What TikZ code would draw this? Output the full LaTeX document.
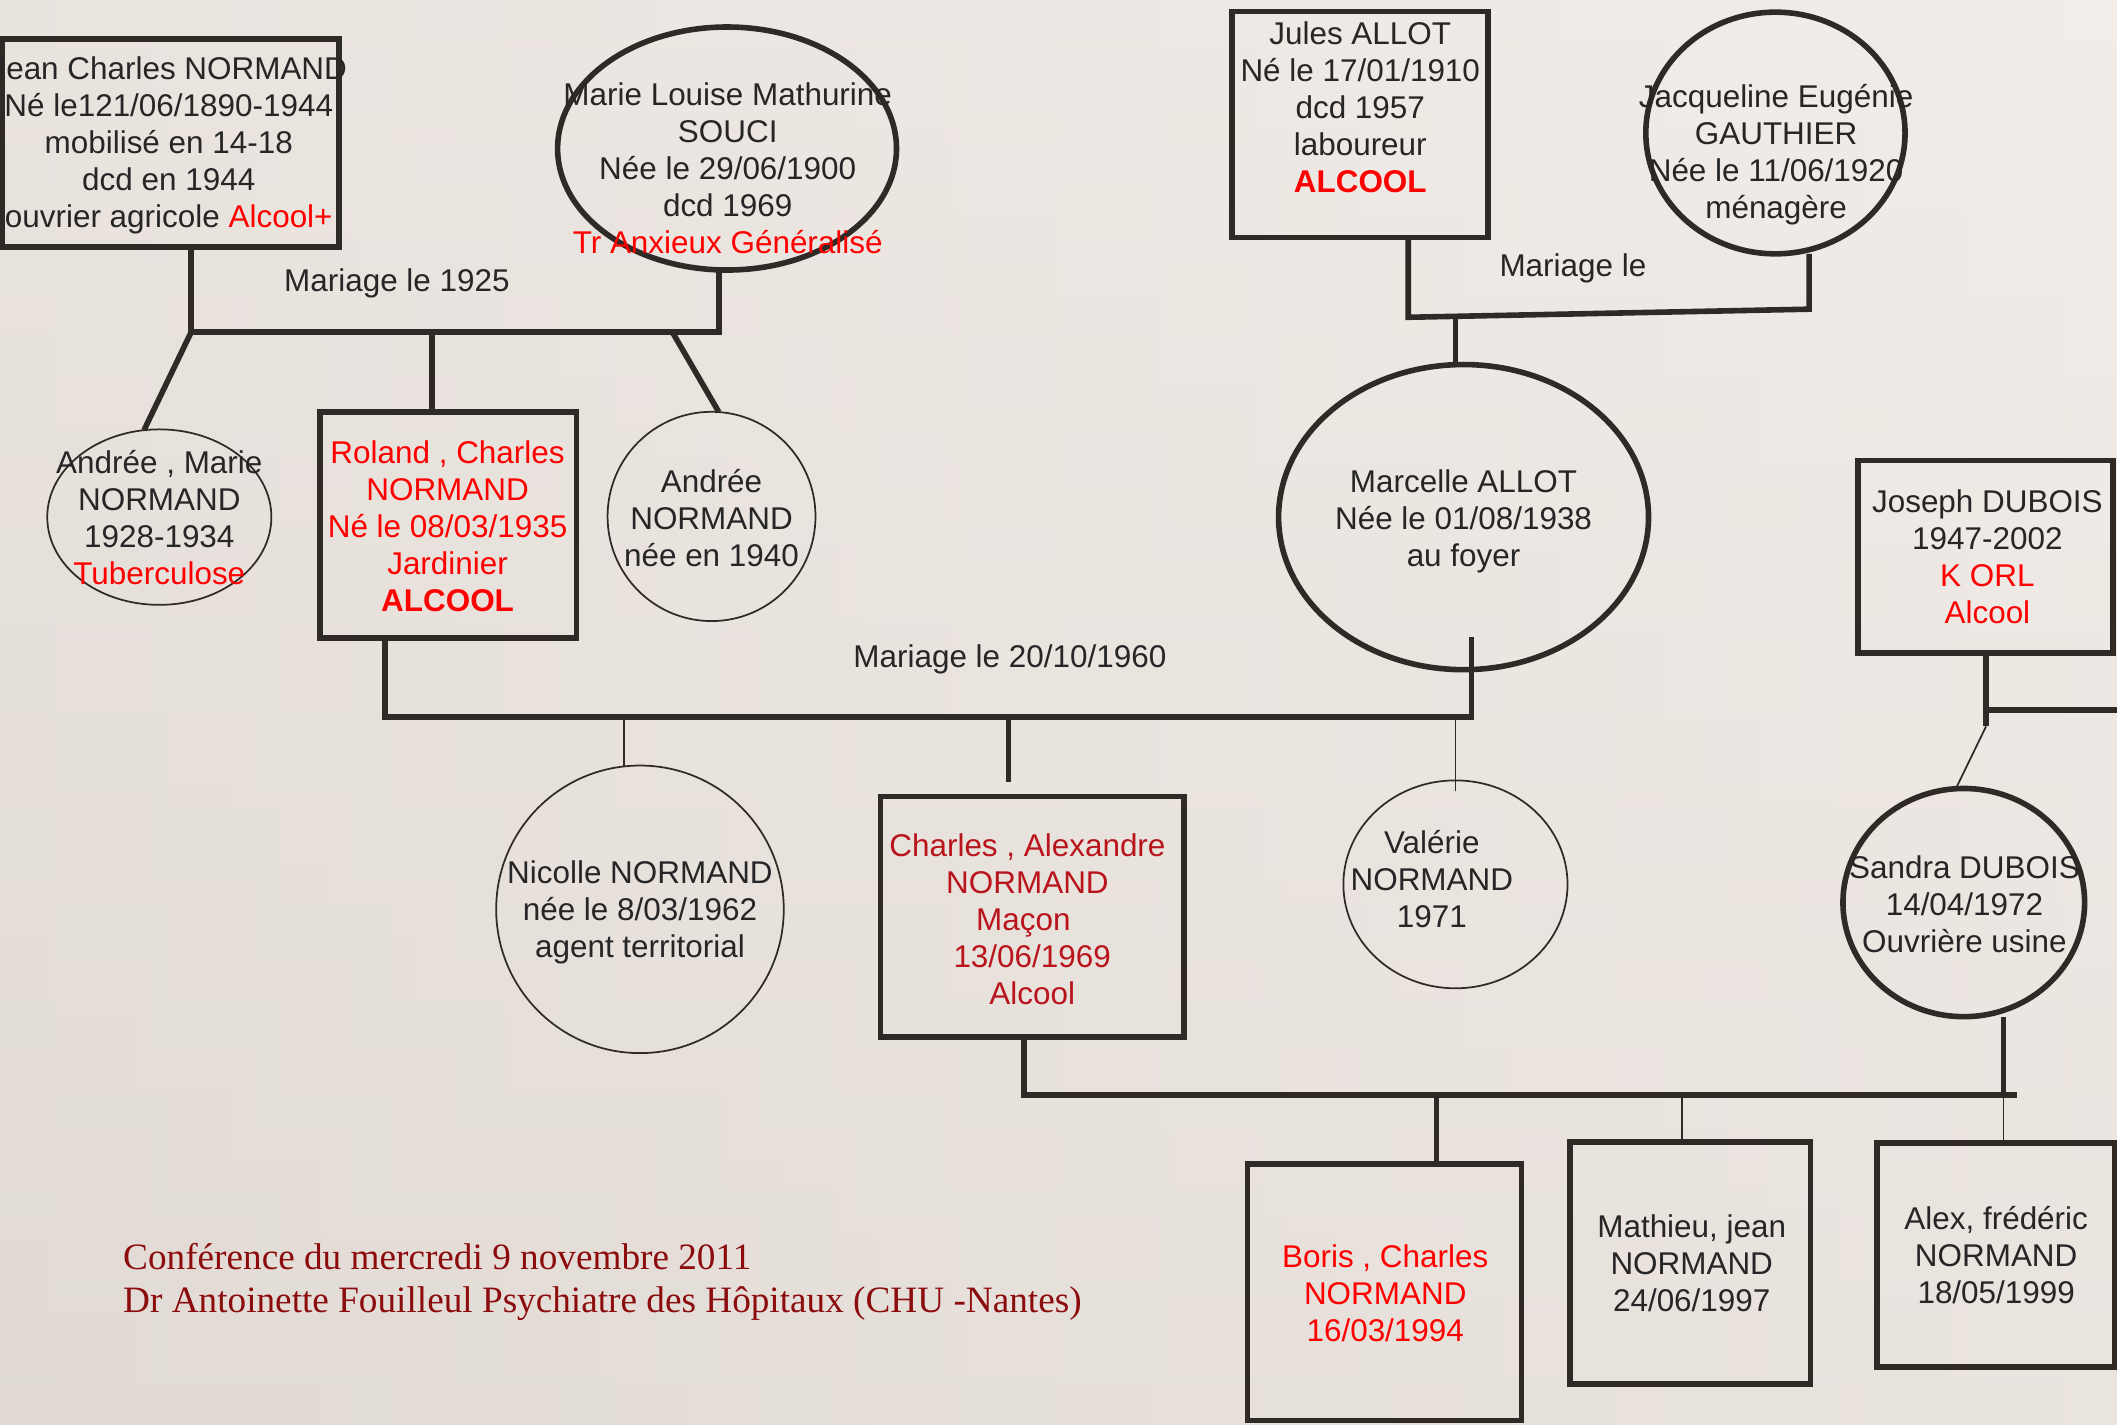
\documentclass[tikz,border=0pt]{standalone}
\usepackage{fontspec}
\setmainfont{Liberation Sans}
\newfontfamily\footfont{Liberation Serif}
\usetikzlibrary{fit,shapes.geometric,calc}
\definecolor{bgTop}{RGB}{241,236,232}
\definecolor{bgBot}{RGB}{226,219,213}
\definecolor{bgL}{RGB}{225,218,212}
\definecolor{bgR}{RGB}{244,239,235}
\definecolor{ink}{RGB}{47,42,37}
\definecolor{txt}{RGB}{38,38,38}
\definecolor{hot}{RGB}{255,0,0}
\definecolor{darkhot}{RGB}{185,20,28}
\definecolor{foot}{RGB}{140,12,14}
\newcommand{\topS}{\rule{0pt}{0.86em}}
\newcommand{\botS}{\rule[-0.14em]{0pt}{0.14em}}
\newcommand{\hot}[1]{\textcolor{hot}{#1}}
\begin{document}
\begin{tikzpicture}[x=0.7pt,y=-0.7pt,
  thickline/.style={draw=ink,line width=2.9pt},
  thinline/.style={draw=ink,line width=0.9pt},
  boxs/.style={thickline,rectangle,inner sep=0pt,outer sep=0pt},
  ovalthick/.style={thickline,ellipse,inner sep=0pt,outer sep=0pt},
  ovalthin/.style={thinline,ellipse,inner sep=0pt,outer sep=0pt},
  lbl/.style={text=txt,align=center,inner sep=0pt,font=\fontsize{16.3}{19.2}\selectfont},
  footer/.style={text=foot,inner sep=0pt,anchor=base west,font=\footfont\fontsize{19.3}{22.7}\selectfont}
]
\shade[top color=bgTop, bottom color=bgBot] (0,0) rectangle (1568,1055);
\shade[left color=bgL, right color=bgR, opacity=0.45] (0,0) rectangle (1568,1055);
\useasboundingbox (0,0) rectangle (1568,1055);

% ---- shapes ----
\node[boxs,fit={(1.5,29) (251,183)}] (jean) {};
\node[ovalthick,minimum width=175.7pt,minimum height=126pt] (marie) at (538.5,110) {};
\node[boxs,fit={(912.6,8.6) (1102,176)}] (jules) {};
\node[ovalthick,minimum width=134.4pt,minimum height=125.3pt] (jacq) at (1315,98.5) {};
\node[ovalthin,minimum width=116.2pt,minimum height=91pt] (andreeM) at (118,383) {};
\node[boxs,fit={(237,305) (427,472.5)}] (roland) {};
\node[ovalthin,minimum width=107.8pt,minimum height=108.5pt] (andree) at (527,382.5) {};
\node[ovalthick,minimum width=191.8pt,minimum height=158.2pt] (marcelle) at (1084,383) {};
\node[boxs,fit={(1376,341) (1565,483.5)}] (joseph) {};
\node[ovalthin,minimum width=149.1pt,minimum height=149.1pt] (nicolle) at (474,673.5) {};
\node[boxs,fit={(652,590) (877,768)}] (charles) {};
\node[ovalthin,minimum width=116.2pt,minimum height=107.8pt] (valerie) at (1078,655) {};
\node[ovalthick,minimum width=125.3pt,minimum height=118.3pt] (sandra) at (1454.5,668.5) {};
\node[boxs,fit={(924,862) (1127,1052)}] (boris) {};
\node[boxs,fit={(1163,846) (1341,1025)}] (mathieu) {};
\node[boxs,fit={(1390,846.5) (1566,1012.5)}] (alex) {};

% ---- connectors ----
\coordinate (m1a) at (141.6,246);
\coordinate (m1b) at (532.5,246);
\coordinate (m1c) at (320,246);
\coordinate (m1d) at (498,246);
\draw[thickline] (jean.south -| m1a) -- (m1a) -- (m1b) -- (marie.south -| m1b);
\draw[thickline] (m1a) -- (andreeM.100);
\draw[thickline] (m1c) -- (roland.north -| m1c);
\draw[thickline] (m1d) -- (andree.86);

\coordinate (m2a) at (1043,235);
\coordinate (m2b) at (1340,229);
\coordinate (m2c) at (1078,234.3);
\draw[thickline] (jules.south -| m2a) -- (m2a) -- (m2b) -- (jacq.south -| m2b);
\draw[thickline] (m2c) -- (marcelle.north -| m2c);

\coordinate (m3a) at (285,531);
\coordinate (m3b) at (1090,531);
\coordinate (m3top) at (1090,472);
\coordinate (m3n) at (462,531);
\coordinate (m3c) at (747,531);
\coordinate (m3v) at (1078,531);
\draw[thickline] (roland.south -| m3a) -- (m3a) -- (m3b) -- (m3top);
\draw[thinline] (m3n) -- (nicolle.north -| m3n);
\draw[thickline,shorten >=7.7pt] (m3c) -- (charles.north -| m3c);
\draw[thinline,shorten >=-5.6pt] (m3v) -- (valerie.north -| m3v);

\coordinate (j1) at (1471,538);
\coordinate (j2) at (1471,526);
\coordinate (jR) at (1580,526);
\draw[thickline] (joseph.south -| j1) -- (j1);
\draw[thickline] (j2) -- (jR);
\draw[thinline] (j1) -- (sandra.94);

\coordinate (m4a) at (758.5,811);
\coordinate (m4b) at (1494,811);
\coordinate (m4s) at (1484,811);
\coordinate (m4bo) at (1064,811);
\coordinate (m4m) at (1246,811);
\draw[thickline] (charles.south -| m4a) -- (m4a) -- (m4b);
\draw[thickline] (sandra.south -| m4s) -- (m4s);
\draw[thickline] (m4bo) -- (boris.north -| m4bo);
\draw[thinline] (m4m) -- (mathieu.north -| m4m);
\draw[thinline] (m4s) -- (alex.north -| m4s);

% ---- texts ----
\node[lbl] (jeanT) at (125,106) {\topS Jean Charles NORMAND\\Né le121/06/1890-1944\\mobilisé en 14-18\\dcd en 1944\\ouvrier agricole \hot{Alcool+}\botS};
\node[lbl] (marieT) at (539,124.3) {\topS Marie Louise Mathurine\\SOUCI\\Née le 29/06/1900\\dcd 1969\\\hot{Tr Anxieux Généralisé}\botS};
\node[lbl] (julesT) at (1007.5,79.6) {\topS Jules ALLOT\\Né le 17/01/1910\\dcd 1957\\laboureur\\\hot{\textbf{ALCOOL}}\botS};
\node[lbl] (jacqT) at (1315.5,112.8) {\topS Jacqueline Eugénie\\GAUTHIER\\Née le 11/06/1920\\ménagère\botS};
\node[lbl] (andreeMT) at (118,383.6) {\topS Andrée , Marie\\NORMAND\\1928-1934\\\hot{Tuberculose}\botS};
\node[lbl,text=hot] (rolandT) at (331.5,389.5) {\topS Roland , Charles\\NORMAND\\Né le 08/03/1935\\Jardinier\\\textbf{ALCOOL}\botS};
\node[lbl] (andreeT) at (527,384) {\topS Andrée\\NORMAND\\née en 1940\botS};
\node[lbl] (marcelleT) at (1084,384.5) {\topS Marcelle ALLOT\\Née le 01/08/1938\\au foyer\botS};
\node[lbl] (josephT) at (1472,412.6) {\topS Joseph DUBOIS\\1947-2002\\\hot{K ORL}\\\hot{Alcool}\botS};
\node[lbl] (nicolleT) at (474,674.5) {\topS Nicolle NORMAND\\née le 8/03/1962\\agent territorial\botS};
\node[lbl,text=darkhot] (charlesT) at (761,680.5) {\topS Charles , Alexandre\\NORMAND\\Maçon\kern4.2pt\\\hspace*{4.9pt}13/06/1969\\\hspace*{4.9pt}Alcool\botS};
\node[lbl] (valerieT) at (1060.5,651) {\topS Valérie\\NORMAND\\1971\botS};
\node[lbl] (sandraT) at (1455,670) {\topS Sandra DUBOIS\\14/04/1972\\Ouvrière usine\botS};
\node[lbl,text=hot] (borisT) at (1026,958) {\topS Boris , Charles\\NORMAND\\16/03/1994\botS};
\node[lbl] (mathieuT) at (1253,935.8) {\topS Mathieu, jean\\NORMAND\\24/06/1997\botS};
\node[lbl] (alexT) at (1478.5,929.6) {\topS Alex, frédéric\\NORMAND\\18/05/1999\botS};

\node[lbl] (mar1) at (294,208.6) {\topS Mariage le 1925\botS};
\node[lbl] (mar2) at (1165,197.5) {\topS Mariage le\botS};
\node[lbl] (mar3) at (748,486.5) {\topS Mariage le 20/10/1960\botS};

\node[footer] (foot1) at (91,940) {Conférence du mercredi 9 novembre 2011};
\node[footer] (foot2) at (91,972.4) {Dr Antoinette Fouilleul Psychiatre des Hôpitaux (CHU -Nantes)};
\end{tikzpicture}
\end{document}
